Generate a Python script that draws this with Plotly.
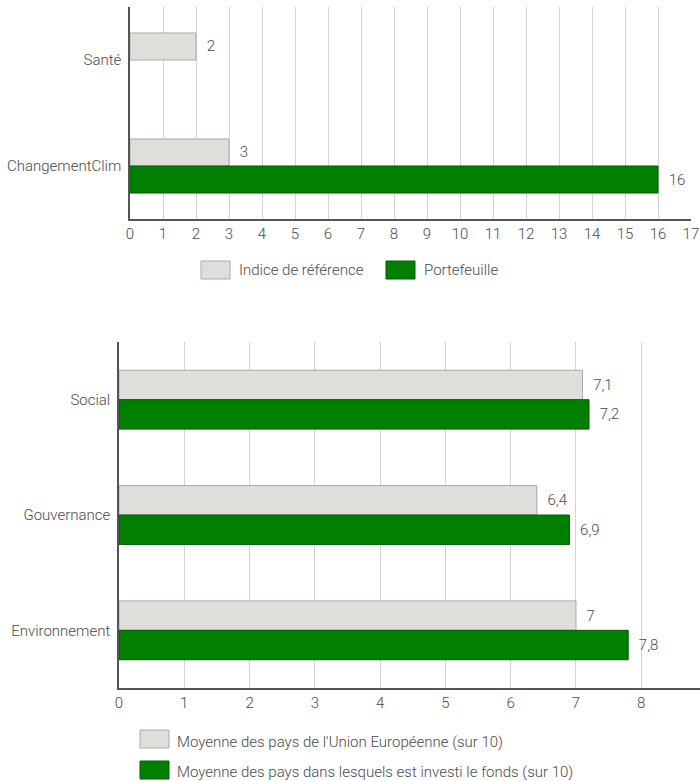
import plotly.graph_objects as go

# Top chart: thematic exposure
themes = ["Santé", "ChangementClim"]
indice_ref = [2, 3]
portefeuille = [None, 16]
top_ticks = list(range(0, 18))

# Bottom chart: ESG scores (out of 10)
piliers = ["Social", "Gouvernance", "Environnement"]
moyenne_ue = [7.1, 6.4, 7.0]
moyenne_fonds = [7.2, 6.9, 7.8]
bottom_ticks = list(range(0, 9))

legend_top = ["Indice de référence", "Portefeuille"]
legend_bottom = ["Moyenne des pays de l'Union Européenne (sur 10)",
                 "Moyenne des pays dans lesquels est investi le fonds (sur 10)"]

GREY_FILL = "#dfdedb"
GREY_LINE = "#a9a9a6"
GREEN_FILL = "#007f00"
GREEN_LINE = "#005c00"
TEXT = "#4a4a4a"
FONT = "Roboto"

fig = go.Figure()

def bar(x, y, fill, line, xa, ya):
    return go.Bar(
        x=x, y=y, orientation="h",
        marker=dict(color=fill, line=dict(color=line, width=1)),
        texttemplate="\u2002%{x}", textposition="outside",
        textfont=dict(color=TEXT, size=15, family=FONT, weight=300),
        cliponaxis=False, xaxis=xa, yaxis=ya, showlegend=False,
        hoverinfo="skip",
    )

fig.add_trace(bar(indice_ref, themes, GREY_FILL, GREY_LINE, "x", "y"))
fig.add_trace(bar(portefeuille, themes, GREEN_FILL, GREEN_LINE, "x", "y"))
fig.add_trace(bar(moyenne_ue, piliers, GREY_FILL, GREY_LINE, "x2", "y2"))
fig.add_trace(bar(moyenne_fonds, piliers, GREEN_FILL, GREEN_LINE, "x2", "y2"))

axis_font = dict(color=TEXT, size=15, family=FONT, weight=300)

common_x = dict(
    showgrid=True, gridcolor="#d3d3d3", gridwidth=1,
    showline=True, linecolor="#555555", linewidth=1.5,
    zeroline=False, ticks="", tickfont=axis_font, fixedrange=True,
    automargin=False,
)
common_y = dict(
    showgrid=False, showline=True, linecolor="#555555", linewidth=1.5,
    zeroline=False, ticks="", tickfont=axis_font, autorange="reversed",
    ticklabelstandoff=4, fixedrange=True, automargin=False,
)

fig.update_layout(
    width=700, height=781,
    margin=dict(l=0, r=0, t=0, b=0, autoexpand=False),
    paper_bgcolor="white", plot_bgcolor="white",
    separators=", ",
    barmode="group", bargap=0.49, bargroupgap=0,
    font=dict(family=FONT, color=TEXT),
    xaxis=dict(domain=[130 / 700, 691 / 700], range=[0, 17],
               tickvals=top_ticks, anchor="y", **common_x),
    yaxis=dict(domain=[1 - 219 / 781, 1 - 7 / 781], anchor="x", **common_y),
    xaxis2=dict(domain=[119 / 700, 1.0], range=[0, 8.9],
                tickvals=bottom_ticks, anchor="y2", **common_x),
    yaxis2=dict(domain=[1 - 688 / 781, 1 - 342 / 781], anchor="x2", **common_y),
)

# Legend swatches and labels
def swatch(x0, y0, w, h, fill, line):
    fig.add_shape(type="rect", xref="paper", yref="paper",
                  x0=x0 / 700, x1=(x0 + w) / 700,
                  y0=1 - (y0 + h) / 781, y1=1 - y0 / 781,
                  fillcolor=fill, line=dict(color=line, width=1))

def label(x, y, text):
    fig.add_annotation(xref="paper", yref="paper", x=x / 700, y=1 - y / 781,
                       text=text, showarrow=False, xanchor="left", yanchor="middle",
                       font=dict(color=TEXT, size=15, family=FONT, weight=300))

swatch(201, 261, 29, 18, GREY_FILL, GREY_LINE)
label(237, 270, legend_top[0])
swatch(386, 261, 29, 18, GREEN_FILL, GREEN_LINE)
label(422, 270, legend_top[1])

swatch(140, 730, 29, 18, GREY_FILL, GREY_LINE)
label(175, 742, legend_bottom[0])
swatch(140, 761, 29, 18, GREEN_FILL, GREEN_LINE)
label(175, 772, legend_bottom[1])

fig.write_html("out.html")
